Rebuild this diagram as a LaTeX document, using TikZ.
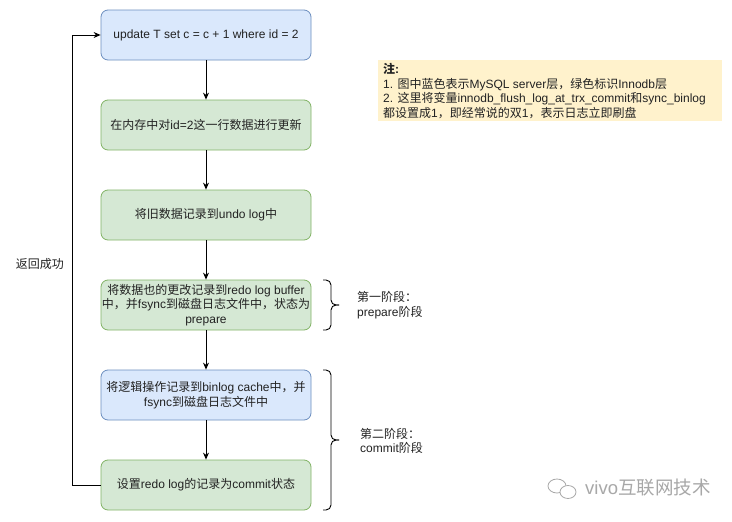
\documentclass[tikz,border=0pt]{standalone}
\usepackage{fontspec}
\setmainfont{Liberation Sans}
\newfontfamily\cjk{Noto Sans CJK SC}
\usetikzlibrary{arrows.meta}
\definecolor{bfill}{HTML}{DAE8FC}
\definecolor{bline}{HTML}{6C8EBF}
\definecolor{gfill}{HTML}{D5E8D4}
\definecolor{gline}{HTML}{82B366}
\definecolor{nfill}{HTML}{FFF2CC}
\definecolor{txt}{HTML}{222222}
\definecolor{wm}{HTML}{A8A8A8}
\newcommand\zh[1]{{\cjk #1}}
\tikzset{
  boxbase/.style={draw, rounded corners=7pt, minimum width=210pt, minimum height=50pt,
    inner sep=0pt, align=center, text=txt, line width=0.8pt},
  bluebox/.style={boxbase, fill=bfill, draw=bline},
  greenbox/.style={boxbase, fill=gfill, draw=gline},
  arr/.style={-{Stealth[length=7pt,width=6pt]}, line width=0.9pt, black},
  bracestyle/.style={rounded corners=5pt, line width=0.9pt, black},
  lbl/.style={align=left, anchor=west, inner sep=0pt, text=txt}
}
\begin{document}
\begin{tikzpicture}[x=1pt,y=-1pt,font=\fontsize{12}{14.5}\selectfont]
\useasboundingbox[fill=white] (0,0) rectangle (732,522);

\node[bluebox]  (b1) at (206,35)  {update T set c = c + 1 where id = 2};
\node[greenbox] (b2) at (206,125) {\zh{在内存中对}id=2\zh{这一行数据进行更新}};
\node[greenbox] (b3) at (206,215) {\zh{将旧数据记录到}undo log\zh{中}};
\node[greenbox] (b4) at (206,305) {\zh{将数据也的更改记录到}redo log buffer\\\zh{中，并}fsync\zh{到磁盘日志文件中，状态为}\\prepare};
\node[bluebox]  (b5) at (206,395) {\zh{将逻辑操作记录到}binlog cache\zh{中，并}\\fsync\zh{到磁盘日志文件中}};
\node[greenbox] (b6) at (206,485) {\zh{设置}redo log\zh{的记录为}commit\zh{状态}};

\draw[arr] (b1) -- (b2);
\draw[arr] (b2) -- (b3);
\draw[arr] (b3) -- (b4);
\draw[arr] (b4) -- (b5);
\draw[arr] (b5) -- (b6);

\coordinate (lb) at (72,485);
\coordinate (lt) at (72,35);
\draw[arr] (b6.west) -- (lb) -- (lt) -- (b1.west);
\node[text=txt] (ret) at (40,264) {\zh{返回成功}};

% braces
\draw[bracestyle] (323,280) -- (331,280) -- (331,305) -- (339,305);
\draw[bracestyle] (323,330) -- (331,330) -- (331,305) -- (339,305);
\node[lbl] (p1) at (357,305) {\zh{第一阶段：}\\prepare\zh{阶段}};

\draw[bracestyle] (323,370) -- (331,370) -- (331,440) -- (339,440);
\draw[bracestyle] (323,510) -- (331,510) -- (331,440) -- (339,440);
\node[lbl] (p2) at (360,441) {\zh{第二阶段：}\\commit\zh{阶段}};

% note
\node[fill=nfill, minimum width=344pt, minimum height=61pt, inner sep=0pt] (note) at (550,90) {};
\node[lbl, anchor=north west] (notetxt) at (383,63)
 {\textbf{\zh{注}:}\\1. \zh{图中蓝色表示}MySQL server\zh{层，绿色标识}Innodb\zh{层}\\2. \zh{这里将变量}innodb\_flush\_log\_at\_trx\_commit\zh{和}sync\_binlog\\\zh{都设置成}1\zh{，即经常说的双}1\zh{，表示日志立即刷盘}};

% watermark
\draw[wm, line width=0.8pt] (557,486) ellipse (9pt and 7pt);
\draw[wm, line width=0.8pt, fill=white] (568,492) ellipse (8pt and 6.5pt);
\node[anchor=west, text=wm, inner sep=0pt, font=\fontsize{18.5}{18.5}\selectfont] (wmt) at (585,488) {vivo\zh{互联网技术}};
\end{tikzpicture}
\end{document}
